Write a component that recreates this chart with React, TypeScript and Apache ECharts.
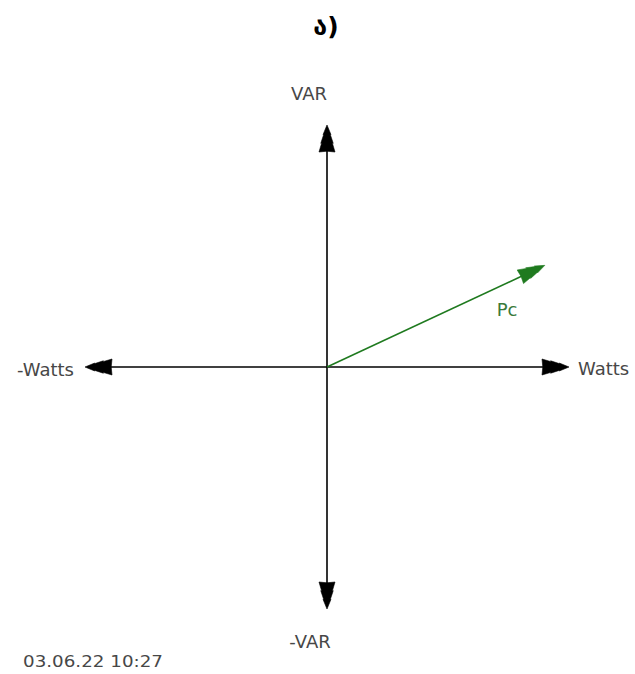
import React, { useEffect, useRef } from "react";
import * as echarts from "echarts";

// ---- data ----
const vectorNames = ["Watts", "-Watts", "VAR", "-VAR", "Pc"];
const vectorX = [1, -1, 0, 0, 0.9];
const vectorY = [0, 0, 1, -1, 0.42];
const titleText = "ა)";
const timestampText = "03.06.22 10:27";

const styleByName: Record<string, { color: string; width: number; head: number; half: number }> = {
  Watts: { color: "#000000", width: 1.6, head: 27, half: 8 },
  "-Watts": { color: "#000000", width: 1.6, head: 27, half: 8 },
  VAR: { color: "#000000", width: 1.6, head: 27, half: 8 },
  "-VAR": { color: "#000000", width: 1.6, head: 27, half: 8 },
  Pc: { color: "#1f7a1f", width: 1.6, head: 27, half: 7.5 },
};

export default function App() {
  const ref = useRef<HTMLDivElement | null>(null);
  useEffect(() => {
    if (!ref.current) return;
    const chart = echarts.init(ref.current, undefined, { renderer: "svg" });
    const seriesData = vectorNames.map((n, i) => [0, 0, vectorX[i], vectorY[i], i]);

    const renderItem = (params: any, api: any) => {
      const idx = api.value(4);
      const name = vectorNames[idx];
      const st = styleByName[name];
      const p0 = api.coord([api.value(0), api.value(1)]);
      const p1 = api.coord([api.value(2), api.value(3)]);
      const dx = p1[0] - p0[0];
      const dy = p1[1] - p0[1];
      const len = Math.sqrt(dx * dx + dy * dy) || 1;
      const ux = dx / len;
      const uy = dy / len;
      const nx = -uy;
      const ny = ux;
      const L = st.head;
      const W = st.half;
      const prof: [number, number][] = [
        [0, 0],
        [L * 0.36, W * 0.5],
        [L * 0.34, W * 0.4],
        [L * 0.68, W * 0.78],
        [L * 0.66, W * 0.66],
        [L, W],
        [L * 0.97, 0],
      ];
      const pts: number[][] = [];
      const toXY = (a: number, b: number) => [p1[0] - ux * a + nx * b, p1[1] - uy * a + ny * b];
      prof.forEach(([a, b]) => pts.push(toXY(a, b)));
      for (let k = prof.length - 2; k >= 1; k--) {
        const [a, b] = prof[k];
        pts.push(toXY(a, -b));
      }
      const lineEnd = toXY(L * 0.8, 0);
      return {
        type: "group",
        children: [
          {
            type: "line",
            shape: { x1: p0[0], y1: p0[1], x2: lineEnd[0], y2: lineEnd[1] },
            style: { stroke: st.color, lineWidth: st.width },
          },
          {
            type: "polygon",
            shape: { points: pts },
            style: { fill: st.color, stroke: st.color, lineWidth: 0.6 },
          },
        ],
      };
    };

    const labelStyle = (text: string, x: number, y: number, align: string, extra: any = {}) => ({
      type: "text",
      x,
      y,
      style: {
        text,
        fontFamily: "DejaVu Sans",
        fontSize: 18,
        fill: "#474747",
        textAlign: align,
        textVerticalAlign: "middle",
        ...extra,
      },
    });

    chart.setOption({
      animation: false,
      backgroundColor: "#ffffff",
      grid: { left: 85, right: 66, top: 125, bottom: 65 },
      xAxis: { type: "value", min: -1, max: 1, show: false },
      yAxis: { type: "value", min: -1, max: 1, show: false },
      series: [
        {
          type: "custom",
          coordinateSystem: "cartesian2d",
          renderItem,
          encode: { x: [0, 2], y: [1, 3] },
          data: seriesData,
          silent: true,
        },
      ],
      graphic: [
        {
          type: "text",
          x: 326,
          y: 26,
          style: {
            text: titleText,
            fontFamily: "DejaVu Sans",
            fontSize: 25,
            fontWeight: "bold",
            fill: "#000000",
            textAlign: "center",
            textVerticalAlign: "middle",
          },
        },
        labelStyle(vectorNames[2], 309, 93, "center"),
        labelStyle(vectorNames[3], 310, 641, "center"),
        labelStyle(vectorNames[1], 74, 369, "right"),
        labelStyle(vectorNames[0], 578, 368, "left"),
        labelStyle(vectorNames[4], 507, 309, "center", { fill: "#3a7a3a" }),
        {
          type: "text",
          x: 23,
          y: 662,
          scaleX: 1.22,
          style: {
            text: timestampText,
            fontFamily: "DejaVu Sans",
            fontSize: 15,
            fill: "#474747",
            textAlign: "left",
            textVerticalAlign: "middle",
          },
        },
      ],
    });
    return () => chart.dispose();
  }, []);
  return (
    <div
      ref={ref}
      style={{ position: "fixed", left: 0, top: 0, width: 635, height: 674, background: "#fff" }}
    />
  );
}
